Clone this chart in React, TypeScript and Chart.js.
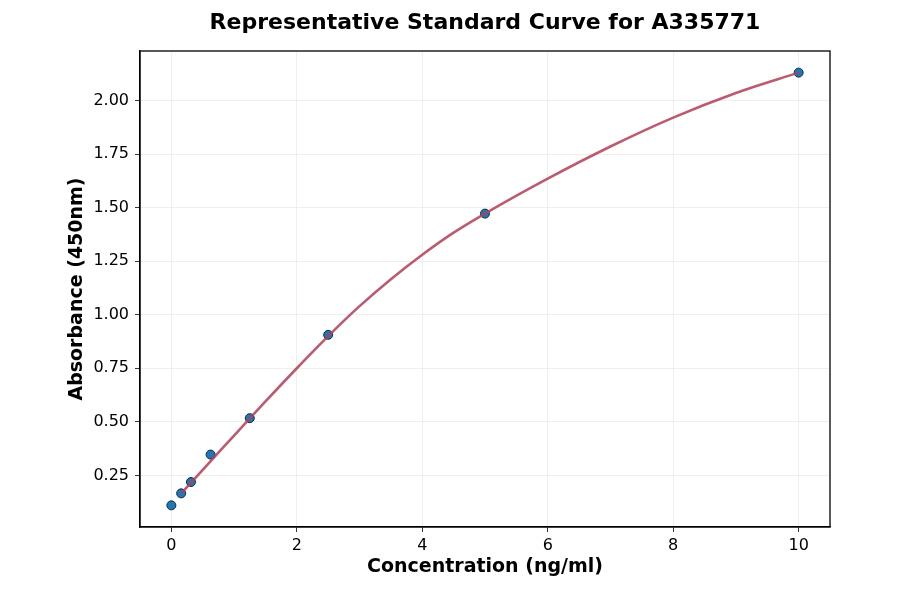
import React, { useEffect, useRef } from 'react';
import { Chart, ChartConfiguration, Plugin } from 'chart.js/auto';

// Standards (measured points)
const concentrations = [0, 0.156, 0.3125, 0.625, 1.25, 2.5, 5, 10];
const absorbances = [0.11, 0.166, 0.219, 0.347, 0.517, 0.906, 1.472, 2.13];

// Fitted curve
const curveX = [0.156, 0.5, 1, 1.25, 1.5, 2, 2.5, 3, 3.5, 4, 4.5, 5, 6, 7, 8, 9, 10];
const curveY = [0.166, 0.276, 0.436, 0.516, 0.595, 0.75, 0.9, 1.04, 1.166, 1.28, 1.383, 1.472, 1.635, 1.785, 1.92, 2.035, 2.13];

// Axis ticks
const xTicks = [0, 2, 4, 6, 8, 10];
const yTicks = [0.25, 0.5, 0.75, 1.0, 1.25, 1.5, 1.75, 2.0];

const TITLE = 'Representative Standard Curve for A335771';
const FONT = "'DejaVu Sans', Verdana, sans-serif";

// black frame round the plot area, title centred over it
const framePlugin: Plugin<'scatter'> = {
  id: 'frame',
  afterDraw: (chart) => {
    const { ctx, chartArea } = chart;
    ctx.save();
    ctx.strokeStyle = '#000';
    ctx.lineWidth = 1.3;
    ctx.strokeRect(chartArea.left, chartArea.top, chartArea.right - chartArea.left, chartArea.bottom - chartArea.top);
    ctx.fillStyle = '#000';
    ctx.font = `bold 22px ${FONT}`;
    ctx.textAlign = 'center';
    ctx.textBaseline = 'middle';
    ctx.fillText(TITLE, (chartArea.left + chartArea.right) / 2, 23);
    ctx.restore();
  }
};

const App: React.FC = () => {
  const chartRef = useRef<HTMLCanvasElement>(null);
  const chartInstance = useRef<Chart | null>(null);

  useEffect(() => {
    if (!chartRef.current) return;
    if (chartInstance.current) chartInstance.current.destroy();
    const ctx = chartRef.current.getContext('2d');
    if (!ctx) return;

    const config: ChartConfiguration<'scatter'> = {
      type: 'scatter',
      data: {
        datasets: [
          {
            label: 'Fit',
            data: curveX.map((x, i) => ({ x, y: curveY[i] })),
            showLine: true,
            borderColor: 'rgba(176, 62, 86, 0.85)',
            borderWidth: 2.6,
            pointRadius: 0,
            cubicInterpolationMode: 'monotone',
            order: 0
          },
          {
            label: 'Standards',
            data: concentrations.map((x, i) => ({ x, y: absorbances[i] })),
            backgroundColor: '#1f77b4',
            borderColor: '#0e2a47',
            borderWidth: 1,
            pointRadius: 4.5,
            order: 1
          }
        ]
      },
      options: {
        responsive: true,
        maintainAspectRatio: false,
        animation: false,
        layout: { padding: { left: 0, right: 70, top: 51, bottom: 0 } },
        plugins: {
          legend: { display: false },
          tooltip: { enabled: false },
          title: { display: false }
        },
        scales: {
          x: {
            type: 'linear',
            min: -0.5,
            max: 10.5,
            afterBuildTicks: (scale) => {
              scale.ticks = xTicks.map(value => ({ value }));
            },
            afterFit: (scale) => {
              scale.height = 67;
            },
            grid: { color: '#ebebeb', tickColor: '#000', tickLength: 5, lineWidth: 0.8 },
            border: { color: '#000', width: 1.3 },
            ticks: {
              color: '#000',
              font: { family: FONT, size: 16 },
              padding: 4,
              maxRotation: 0,
              callback: (value) => String(value)
            },
            title: {
              display: true,
              text: 'Concentration (ng/ml)',
              color: '#000',
              font: { family: FONT, size: 19, weight: 'bold' },
              padding: { top: 0, bottom: 16 }
            }
          },
          y: {
            type: 'linear',
            min: 0.009,
            max: 2.231,
            afterBuildTicks: (scale) => {
              scale.ticks = yTicks.map(value => ({ value }));
            },
            afterFit: (scale) => {
              scale.width = 140;
            },
            grid: { color: '#ebebeb', tickColor: '#000', tickLength: 5, lineWidth: 0.8 },
            border: { color: '#000', width: 1.3 },
            ticks: {
              color: '#000',
              font: { family: FONT, size: 16 },
              padding: 6,
              callback: (value) => Number(value).toFixed(2)
            },
            title: {
              display: true,
              text: 'Absorbance (450nm)',
              color: '#000',
              font: { family: FONT, size: 19, weight: 'bold' },
              padding: { top: 66, bottom: 0 }
            }
          }
        }
      },
      plugins: [framePlugin]
    };

    chartInstance.current = new Chart(ctx, config);

    return () => {
      if (chartInstance.current) {
        chartInstance.current.destroy();
        chartInstance.current = null;
      }
    };
  }, []);

  return (
    <div style={{ position: 'fixed', left: 0, top: 0, width: '900px', height: '594px', background: '#fff' }}>
      <canvas ref={chartRef} />
    </div>
  );
};

export default App;
